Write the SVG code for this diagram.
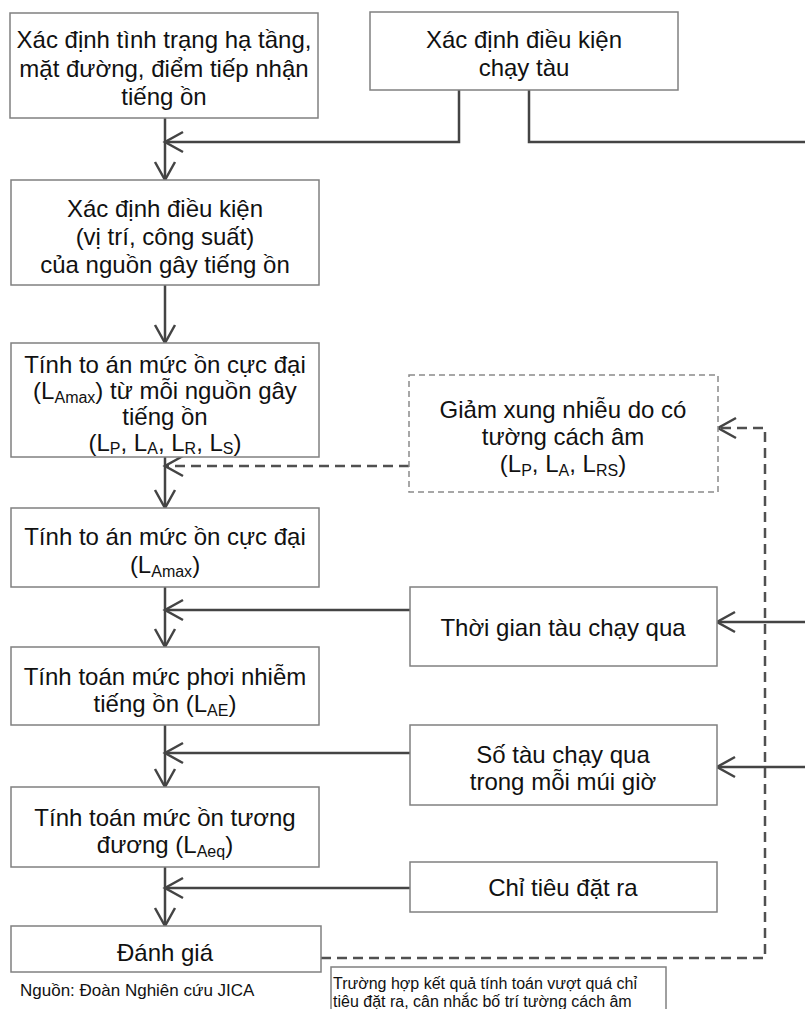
<svg xmlns="http://www.w3.org/2000/svg" width="805" height="1009" viewBox="0 0 805 1009">
  <style>
    .box { fill: #ffffff; stroke: #808080; stroke-width: 1.5; }
    .dbox { fill: #ffffff; stroke: #8a8a8a; stroke-width: 1.5; stroke-dasharray: 6 4; }
    .t { font-family: "Liberation Sans", Arial, sans-serif; font-size: 24px; fill: #111; text-anchor: middle; }
    .s { font-size: 16px; }
    .note { font-family: "Liberation Sans", Arial, sans-serif; font-size: 16px; fill: #111; }
    .src { font-family: "Liberation Sans", Arial, sans-serif; font-size: 17px; fill: #111; }
    .ln { fill: none; stroke: #444444; stroke-width: 2.5; }
    .dash { fill: none; stroke: #505050; stroke-width: 2.5; stroke-dasharray: 10 6; }
  </style>
  <defs>
    <marker id="arr" viewBox="-20 -12 22 24" refX="0" refY="0" markerWidth="22" markerHeight="24" markerUnits="userSpaceOnUse" orient="auto" overflow="visible">
      <path d="M-18,-10 L0,0 L-18,10" fill="none" stroke="#444444" stroke-width="2.5"/>
    </marker>
  </defs>

  <rect width="805" height="1009" fill="#ffffff"/>

  <!-- connectors -->
  <g id="connectors">
    <line class="ln" x1="165" y1="118" x2="165" y2="180" marker-end="url(#arr)"/>
    <polyline class="ln" points="459,90 459,142 165,142" marker-end="url(#arr)"/>
    <polyline class="ln" points="529,90 529,142 805,142"/>
    <line class="ln" x1="165" y1="285" x2="165" y2="343" marker-end="url(#arr)"/>
    <line class="ln" x1="165" y1="457" x2="165" y2="508" marker-end="url(#arr)"/>
    <line class="dash" x1="409" y1="466" x2="165" y2="466" marker-end="url(#arr)"/>
    <line class="ln" x1="165" y1="587" x2="165" y2="647" marker-end="url(#arr)"/>
    <line class="ln" x1="410" y1="610" x2="165" y2="610" marker-end="url(#arr)"/>
    <line class="ln" x1="805" y1="622" x2="717" y2="622" marker-end="url(#arr)"/>
    <line class="ln" x1="165" y1="725" x2="165" y2="787" marker-end="url(#arr)"/>
    <line class="ln" x1="410" y1="753" x2="165" y2="753" marker-end="url(#arr)"/>
    <line class="ln" x1="805" y1="767" x2="717" y2="767" marker-end="url(#arr)"/>
    <line class="ln" x1="165" y1="867" x2="165" y2="926" marker-end="url(#arr)"/>
    <line class="ln" x1="410" y1="888" x2="165" y2="888" marker-end="url(#arr)"/>
    <polyline class="dash" points="321,958 765,958 765,428 718,428" marker-end="url(#arr)"/>
  </g>

  <g id="n-hatang">
    <rect class="box" x="10" y="13" width="308" height="105"/>
    <text class="t" x="164" y="48">Xác định tình trạng hạ tầng,</text>
    <text class="t" x="164" y="77">mặt đường, điểm tiếp nhận</text>
    <text class="t" x="164" y="105">tiếng ồn</text>
  </g>

  <g id="n-chaytau">
    <rect class="box" x="370" y="12" width="308" height="78"/>
    <text class="t" x="524" y="48">Xác định điều kiện</text>
    <text class="t" x="524" y="76">chạy tàu</text>
  </g>

  <g id="n-nguon">
    <rect class="box" x="11" y="180" width="308" height="105"/>
    <text class="t" x="165" y="217">Xác định điều kiện</text>
    <text class="t" x="165" y="245">(vị trí, công suất)</text>
    <text class="t" x="165" y="273">của nguồn gây tiếng ồn</text>
  </g>

  <g id="n-lamax-nguon">
    <rect class="box" x="11" y="343" width="308" height="114"/>
    <text class="t" x="165" y="373">Tính to án mức ồn cực đại</text>
    <text class="t" x="165" y="399">(L<tspan class="s" dy="4">Amax</tspan><tspan dy="-4">) từ mỗi nguồn gây</tspan></text>
    <text class="t" x="165" y="425">tiếng ồn</text>
    <text class="t" x="165" y="451">(L<tspan class="s" dy="3">P</tspan><tspan dy="-3">, L</tspan><tspan class="s" dy="3">A</tspan><tspan dy="-3">, L</tspan><tspan class="s" dy="3">R</tspan><tspan dy="-3">, L</tspan><tspan class="s" dy="3">S</tspan><tspan dy="-3">)</tspan></text>
  </g>

  <g id="n-tuong">
    <rect class="dbox" x="409" y="375" width="309" height="117"/>
    <text class="t" x="563" y="418">Giảm xung nhiễu do có</text>
    <text class="t" x="563" y="445">tường cách âm</text>
    <text class="t" x="563" y="472">(L<tspan class="s" dy="4">P</tspan><tspan dy="-4">, L</tspan><tspan class="s" dy="4">A</tspan><tspan dy="-4">, L</tspan><tspan class="s" dy="4">RS</tspan><tspan dy="-4">)</tspan></text>
  </g>

  <g id="n-lamax">
    <rect class="box" x="11" y="508" width="308" height="79"/>
    <text class="t" x="165" y="545">Tính to án mức ồn cực đại</text>
    <text class="t" x="165" y="573">(L<tspan class="s" dy="4">Amax</tspan><tspan dy="-4">)</tspan></text>
  </g>

  <g id="n-thoigian">
    <rect class="box" x="410" y="587" width="307" height="79"/>
    <text class="t" x="563" y="636">Thời gian tàu chạy qua</text>
  </g>

  <g id="n-lae">
    <rect class="box" x="11" y="647" width="308" height="78"/>
    <text class="t" x="165" y="685">Tính toán mức phơi nhiễm</text>
    <text class="t" x="165" y="712">tiếng ồn (L<tspan class="s" dy="4">AE</tspan><tspan dy="-4">)</tspan></text>
  </g>

  <g id="n-sotau">
    <rect class="box" x="410" y="725" width="307" height="80"/>
    <text class="t" x="563" y="763">Số tàu chạy qua</text>
    <text class="t" x="563" y="790">trong mỗi múi giờ</text>
  </g>

  <g id="n-laeq">
    <rect class="box" x="11" y="787" width="308" height="80"/>
    <text class="t" x="165" y="826">Tính toán mức ồn tương</text>
    <text class="t" x="165" y="853">đương (L<tspan class="s" dy="4">Aeq</tspan><tspan dy="-4">)</tspan></text>
  </g>

  <g id="n-chitieu">
    <rect class="box" x="410" y="862" width="307" height="50"/>
    <text class="t" x="563" y="896">Chỉ tiêu đặt ra</text>
  </g>

  <g id="n-danhgia">
    <rect class="box" x="11" y="926" width="310" height="46"/>
    <text class="t" x="165" y="961">Đánh giá</text>
  </g>

  <g id="n-ghichu">
    <rect class="box" x="331" y="967" width="335" height="60"/>
    <text class="note" x="333" y="989">Trường hợp kết quả tính toán vượt quá chỉ</text>
    <text class="note" x="333" y="1007">tiêu đặt ra, cân nhắc bố trí tường cách âm</text>
  </g>

  <text class="src" x="20" y="996">Nguồn: Đoàn Nghiên cứu JICA</text>
</svg>
